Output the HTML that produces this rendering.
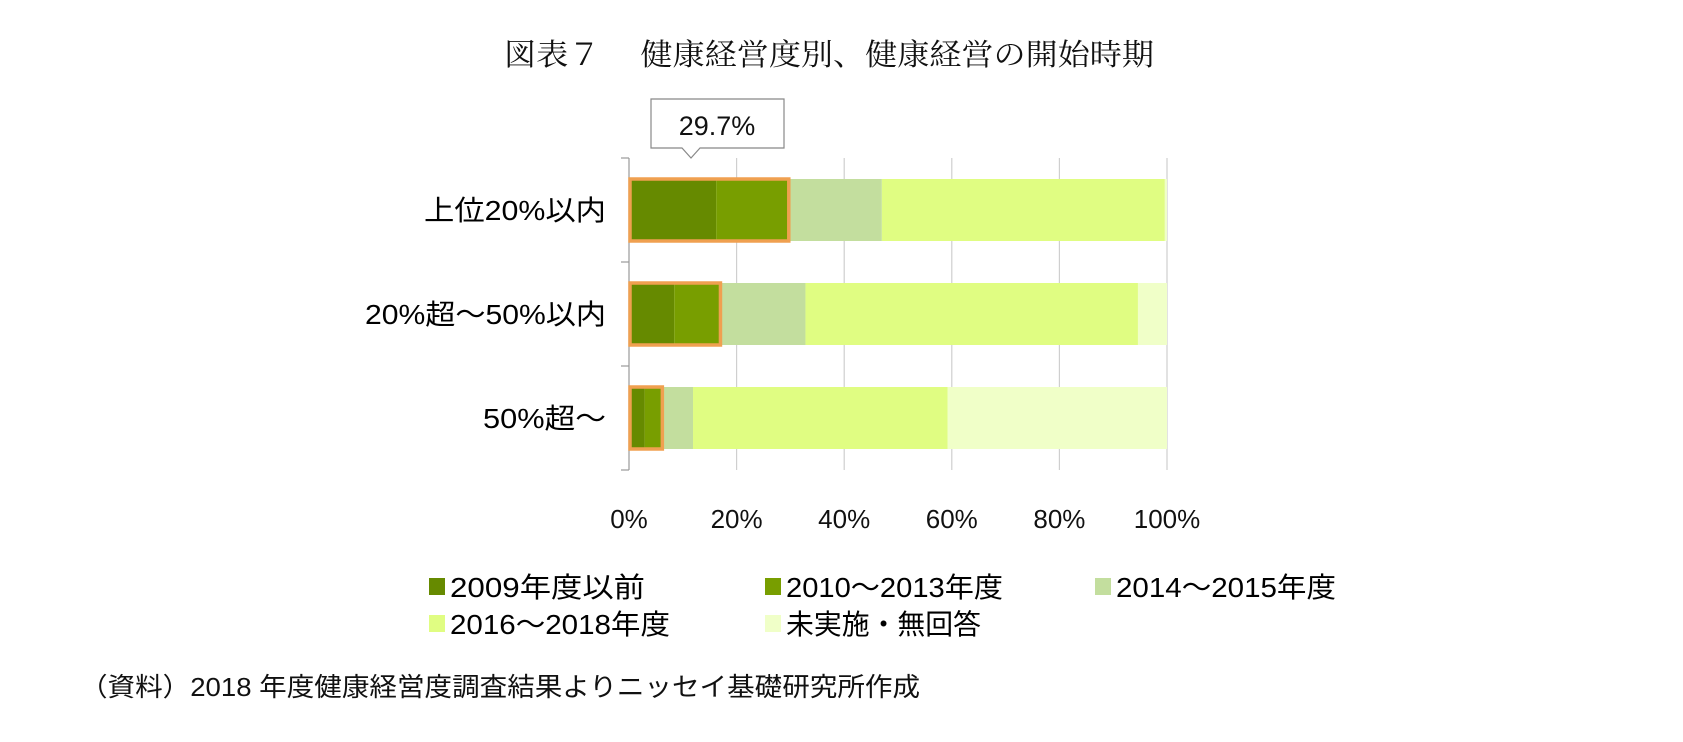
<!DOCTYPE html>
<html><head><meta charset="utf-8"><style>
body{margin:0;background:#fff;width:1683px;height:737px;overflow:hidden;font-family:"Liberation Sans","Noto Sans CJK JP",sans-serif}
</style></head><body>
<svg width="1683" height="737" xmlns="http://www.w3.org/2000/svg">
<text x="504" y="65" textLength="650" lengthAdjust="spacingAndGlyphs" font-family="'Liberation Serif','Noto Serif CJK SC',serif" font-size="30" fill="#111">図表７　 健康経営度別、健康経営の開始時期</text>
<g id="grid"></g><g id="bars"></g><g id="labels"></g>
<g>
<path d="M651,99 H784 V148 H700 L691,158 L682,148 H651 Z" fill="#fff" stroke="#888" stroke-width="1.2"/>
<text x="717" y="135" text-anchor="middle" font-size="27" fill="#111">29.7%</text>
</g>
<g id="legend"></g>
<text x="80" y="696" textLength="840" lengthAdjust="spacingAndGlyphs" font-family="'Liberation Sans','Noto Sans CJK JP',sans-serif" font-size="26" fill="#111">（資料）2018 年度健康経営度調査結果よりニッセイ基礎研究所作成</text>
</svg>
<script>
const categories=["上位20%以内","20%超～50%以内","50%超～"];
const seriesNames=["2009年度以前","2010～2013年度","2014～2015年度","2016～2018年度","未実施・無回答"];
const s2009=[16.2,8.4,2.9];
const s2010=[13.5,8.6,3.3];
const s2014=[17.3,15.8,5.7];
const s2016=[52.6,61.8,47.3];
const sNone=[0.4,5.4,40.8];
const ticks=["0%","20%","40%","60%","80%","100%"];
const series=[s2009,s2010,s2014,s2016,sNone];
const colors=["#668a00","#789e00","#c3de9e","#e0fd82","#f0ffc8"];
const catW=[182,241,123];
const legW=[195,217,220,220,195];
const NS="http://www.w3.org/2000/svg";
const x0=629,x1=1167,yTop=158,yBot=470;
const xs=v=>x0+(x1-x0)*v/100;
const band=(yBot-yTop)/categories.length;
const yc=i=>yTop+band*(i+0.5);
const bh=62;
function mk(t,a,p){const e=document.createElementNS(NS,t);for(const k in a)e.setAttribute(k,a[k]);p.appendChild(e);return e;}
const g=document.getElementById('grid');
ticks.forEach((t,i)=>{const v=i*20;
 const l=mk('line',{x1:xs(v),x2:xs(v),y1:yTop,y2:yBot,stroke:i==0?'#999':'#cfcfcf','stroke-width':1.2},g);
 
 
 const tx=mk('text',{x:xs(v),y:528,'text-anchor':'middle','font-size':26,fill:'#111'},g);
 tx.textContent=t;
 
 
});
for(let i=0;i<=categories.length;i++){const y=yTop+band*i;
 const t=mk('line',{x1:x0-8,x2:x0,y1:y,y2:y,stroke:'#999','stroke-width':1.2},g);
 
 
}
const b=document.getElementById('bars');const lb=document.getElementById('labels');
categories.forEach((c,i)=>{let acc=0;const y=yc(i)-bh/2;
 series.forEach((s,j)=>{const r=mk('rect',{x:xs(acc),y:y,width:xs(acc+s[i])-xs(acc),height:bh,fill:colors[j]},b);
  
  
  acc+=s[i];});
 const o=mk('rect',{x:xs(0)+1,y:y,width:xs(s2009[i]+s2010[i])-xs(0)-1,height:bh,fill:'none',stroke:'#f0a050','stroke-width':3.5},b);
 
 
 const t=mk('text',{x:606-catW[i],y:yc(i)+10,textLength:catW[i],lengthAdjust:'spacingAndGlyphs','font-size':28,fill:'#000'},lb);
 t.textContent=c;
 
 
});
const lg=document.getElementById('legend');
const pos=[[429,586],[765,586],[1095,586],[429,623],[765,623]];
seriesNames.forEach((n,j)=>{const [x,y]=pos[j];
 const r=mk('rect',{x:x,y:y-8,width:16,height:17,fill:colors[j]},lg);
 
 
 const t=mk('text',{x:x+21,y:y+11,textLength:legW[j],lengthAdjust:'spacingAndGlyphs','font-size':28,fill:'#000'},lg);
 t.textContent=n;
 
 
});
</script>
</body></html>
